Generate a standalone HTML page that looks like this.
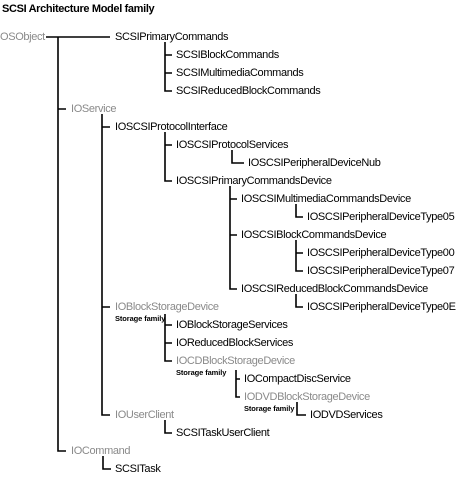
<!DOCTYPE html>
<html><head><style>
body{margin:0;width:458px;height:477px;background:#fff;position:relative;overflow:hidden;font-family:"Liberation Sans",Arial,sans-serif}
.t{position:absolute;font-size:11px;line-height:12px;letter-spacing:-0.35px;color:#000;white-space:nowrap}
.g{color:#8a8a8a}
.s{position:absolute;font-size:7.5px;line-height:9px;letter-spacing:-0.1px;white-space:nowrap;font-weight:bold}
svg{position:absolute;left:0;top:0}
</style></head><body>
<div class="t" style="left:2px;top:3px;font-weight:bold;font-size:11px">SCSI Architecture Model family</div>
<svg width="458" height="477" stroke="#000" stroke-width="1.6" fill="none">
<path d="M46 37H110 M58 37V451H66 M58 109H66"/>
<path d="M165 42V91H172 M165 55H172 M165 73H172"/>
<path d="M102 114V415H110 M102 127H110 M102 307H110"/>
<path d="M165 132V181H172 M165 145H172"/>
<path d="M232 150V163H244"/>
<path d="M230 186V289H237 M230 199H237 M230 235H237"/>
<path d="M296 204V217H303"/>
<path d="M296 240V271H303 M296 253H303"/>
<path d="M296 294V307H303"/>
<path d="M165 314V361H172 M165 325H172 M165 343H172"/>
<path d="M236 370V397H240 M236 379H240"/>
<path d="M297 402V415H306"/>
<path d="M165 420V433H172"/>
<path d="M103 456V469H111"/>
</svg>
<div class="t g" style="left:0;top:31px">OSObject</div>
<div class="t" style="left:115px;top:31px">SCSIPrimaryCommands</div>
<div class="t" style="left:176px;top:49px">SCSIBlockCommands</div>
<div class="t" style="left:176px;top:67px">SCSIMultimediaCommands</div>
<div class="t" style="left:176px;top:85px">SCSIReducedBlockCommands</div>
<div class="t g" style="left:71px;top:103px">IOService</div>
<div class="t" style="left:115px;top:121px">IOSCSIProtocolInterface</div>
<div class="t" style="left:176px;top:139px">IOSCSIProtocolServices</div>
<div class="t" style="left:248px;top:157px">IOSCSIPeripheralDeviceNub</div>
<div class="t" style="left:176px;top:175px">IOSCSIPrimaryCommandsDevice</div>
<div class="t" style="left:241px;top:193px">IOSCSIMultimediaCommandsDevice</div>
<div class="t" style="left:307px;top:211px">IOSCSIPeripheralDeviceType05</div>
<div class="t" style="left:241px;top:229px">IOSCSIBlockCommandsDevice</div>
<div class="t" style="left:307px;top:247px">IOSCSIPeripheralDeviceType00</div>
<div class="t" style="left:307px;top:265px">IOSCSIPeripheralDeviceType07</div>
<div class="t" style="left:241px;top:283px">IOSCSIReducedBlockCommandsDevice</div>
<div class="t" style="left:307px;top:301px">IOSCSIPeripheralDeviceType0E</div>
<div class="t g" style="left:115px;top:301px">IOBlockStorageDevice</div>
<div class="s" style="left:115px;top:314px">Storage family</div>
<div class="t" style="left:176px;top:319px">IOBlockStorageServices</div>
<div class="t" style="left:176px;top:337px">IOReducedBlockServices</div>
<div class="t g" style="left:176px;top:355px">IOCDBlockStorageDevice</div>
<div class="s" style="left:176px;top:368px">Storage family</div>
<div class="t" style="left:244px;top:373px">IOCompactDiscService</div>
<div class="t g" style="left:244px;top:391px">IODVDBlockStorageDevice</div>
<div class="s" style="left:244px;top:404px">Storage family</div>
<div class="t" style="left:310px;top:409px">IODVDServices</div>
<div class="t g" style="left:115px;top:409px">IOUserClient</div>
<div class="t" style="left:176px;top:427px">SCSITaskUserClient</div>
<div class="t g" style="left:71px;top:445px">IOCommand</div>
<div class="t" style="left:115px;top:463px">SCSITask</div>
</body></html>
